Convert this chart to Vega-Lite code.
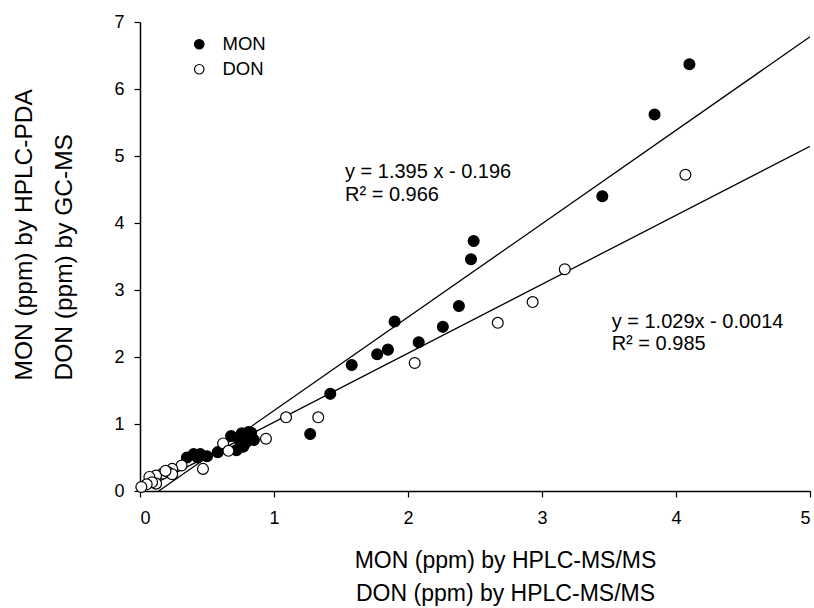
{
  "$schema": "https://vega.github.io/schema/vega-lite/v6.json",
  "width": 670,
  "height": 469,
  "autosize": {"type": "none"},
  "padding": {"left": 140, "top": 22, "right": 4, "bottom": 117},
  "background": "white",
  "config": {
    "view": {"stroke": null},
    "font": "Liberation Sans",
    "axis": {
      "grid": false,
      "domainColor": "black",
      "domainWidth": 1.5,
      "tickColor": "black",
      "tickWidth": 1.2,
      "tickSize": 6,
      "labelColor": "black",
      "labelFontSize": 18,
      "labelFont": "Liberation Sans",
      "titleColor": "black",
      "titleFont": "Liberation Sans",
      "titleFontWeight": "normal",
      "titleFontSize": 23
    },
    "legend": {
      "orient": "none",
      "legendX": 50,
      "legendY": 13,
      "padding": 0,
      "labelFontSize": 18.5,
      "labelFont": "Liberation Sans",
      "labelColor": "black",
      "labelOffset": 14,
      "rowPadding": 6,
      "symbolSize": 90,
      "symbolType": "circle",
      "symbolStrokeColor": "black",
      "symbolStrokeWidth": 1.2
    }
  },
  "datasets": {
    "points": [
      {"analyte": "MON", "x": 4.10, "y": 6.37},
      {"analyte": "MON", "x": 3.84, "y": 5.62},
      {"analyte": "MON", "x": 3.45, "y": 4.40},
      {"analyte": "MON", "x": 2.49, "y": 3.73},
      {"analyte": "MON", "x": 2.47, "y": 3.46},
      {"analyte": "MON", "x": 2.38, "y": 2.76},
      {"analyte": "MON", "x": 1.90, "y": 2.53},
      {"analyte": "MON", "x": 2.26, "y": 2.45},
      {"analyte": "MON", "x": 2.08, "y": 2.22},
      {"analyte": "MON", "x": 1.85, "y": 2.11},
      {"analyte": "MON", "x": 1.77, "y": 2.04},
      {"analyte": "MON", "x": 1.58, "y": 1.88},
      {"analyte": "MON", "x": 1.42, "y": 1.45},
      {"analyte": "MON", "x": 1.27, "y": 0.85},
      {"analyte": "MON", "x": 0.83, "y": 0.87},
      {"analyte": "MON", "x": 0.81, "y": 0.88},
      {"analyte": "MON", "x": 0.76, "y": 0.86},
      {"analyte": "MON", "x": 0.68, "y": 0.82},
      {"analyte": "MON", "x": 0.85, "y": 0.76},
      {"analyte": "MON", "x": 0.79, "y": 0.72},
      {"analyte": "MON", "x": 0.74, "y": 0.76},
      {"analyte": "MON", "x": 0.77, "y": 0.66},
      {"analyte": "MON", "x": 0.72, "y": 0.61},
      {"analyte": "MON", "x": 0.58, "y": 0.58},
      {"analyte": "MON", "x": 0.50, "y": 0.52},
      {"analyte": "MON", "x": 0.45, "y": 0.55},
      {"analyte": "MON", "x": 0.40, "y": 0.55},
      {"analyte": "MON", "x": 0.35, "y": 0.50},
      {"analyte": "MON", "x": 0.43, "y": 0.50},
      {"analyte": "DON", "x": 4.07, "y": 4.72},
      {"analyte": "DON", "x": 3.17, "y": 3.31},
      {"analyte": "DON", "x": 2.93, "y": 2.82},
      {"analyte": "DON", "x": 2.67, "y": 2.51},
      {"analyte": "DON", "x": 2.05, "y": 1.91},
      {"analyte": "DON", "x": 1.33, "y": 1.10},
      {"analyte": "DON", "x": 1.09, "y": 1.10},
      {"analyte": "DON", "x": 0.94, "y": 0.78},
      {"analyte": "DON", "x": 0.62, "y": 0.71},
      {"analyte": "DON", "x": 0.66, "y": 0.60},
      {"analyte": "DON", "x": 0.47, "y": 0.33},
      {"analyte": "DON", "x": 0.31, "y": 0.38},
      {"analyte": "DON", "x": 0.24, "y": 0.33},
      {"analyte": "DON", "x": 0.21, "y": 0.28},
      {"analyte": "DON", "x": 0.17, "y": 0.26},
      {"analyte": "DON", "x": 0.12, "y": 0.23},
      {"analyte": "DON", "x": 0.07, "y": 0.21},
      {"analyte": "DON", "x": 0.12, "y": 0.11},
      {"analyte": "DON", "x": 0.09, "y": 0.13},
      {"analyte": "DON", "x": 0.05, "y": 0.10},
      {"analyte": "DON", "x": 0.01, "y": 0.06},
      {"analyte": "DON", "x": 0.24, "y": 0.25},
      {"analyte": "DON", "x": 0.19, "y": 0.30}
    ],
    "fits": [
      {"fit": "MON", "x": 0.14, "y": 0.0},
      {"fit": "MON", "x": 5.0, "y": 6.779},
      {"fit": "DON", "x": 0.0, "y": -0.0014},
      {"fit": "DON", "x": 5.0, "y": 5.1436}
    ],
    "notes": [
      {"text": "y = 1.395 x - 0.196", "x": 1.53, "y": 4.76},
      {"text": "R² = 0.966", "x": 1.53, "y": 4.42},
      {"text": "y = 1.029x - 0.0014", "x": 3.52, "y": 2.52},
      {"text": "R² = 0.985", "x": 3.52, "y": 2.19}
    ]
  },
  "layer": [
    {
      "data": {"name": "fits"},
      "mark": {"type": "line", "color": "black", "strokeWidth": 1.3, "clip": true},
      "encoding": {
        "x": {"field": "x", "type": "quantitative", "scale": {"domain": [0, 5], "nice": false}},
        "y": {"field": "y", "type": "quantitative", "scale": {"domain": [0, 7], "nice": false}},
        "detail": {"field": "fit"}
      }
    },
    {
      "data": {"name": "points"},
      "mark": {"type": "circle", "size": 118, "stroke": "black", "strokeWidth": 1.2, "opacity": 1},
      "encoding": {
        "x": {
          "field": "x", "type": "quantitative",
          "scale": {"domain": [0, 5], "nice": false},
          "axis": {
            "values": [0, 1, 2, 3, 4, 5], "format": "d",
            "labelPadding": 12,
            "title": ["MON (ppm) by HPLC-MS/MS", "DON (ppm) by HPLC-MS/MS"],
            "titleLineHeight": 33,
            "titleX": 365,
            "titleY": 69,
            "titleAlign": "center",
            "titleBaseline": "middle",
            "titleAngle": 0
          }
        },
        "y": {
          "field": "y", "type": "quantitative",
          "scale": {"domain": [0, 7], "nice": false},
          "axis": {
            "values": [0, 1, 2, 3, 4, 5, 6, 7], "format": "d",
            "labelPadding": 10,
            "title": ["MON (ppm) by HPLC-PDA", "DON (ppm) by GC-MS"],
            "titleFontSize": 24.5,
            "titleLineHeight": 40,
            "titleAngle": -90,
            "titleX": -116,
            "titleY": 358,
            "titleAlign": "left",
            "titleBaseline": "middle"
          }
        },
        "fill": {
          "field": "analyte", "type": "nominal",
          "scale": {"domain": ["MON", "DON"], "range": ["black", "white"]},
          "legend": {"title": null}
        }
      }
    },
    {
      "data": {"name": "notes"},
      "mark": {"type": "text", "align": "left", "baseline": "middle", "fontSize": 20, "font": "Liberation Sans", "color": "black"},
      "encoding": {
        "x": {"field": "x", "type": "quantitative"},
        "y": {"field": "y", "type": "quantitative"},
        "text": {"field": "text"}
      }
    }
  ]
}
